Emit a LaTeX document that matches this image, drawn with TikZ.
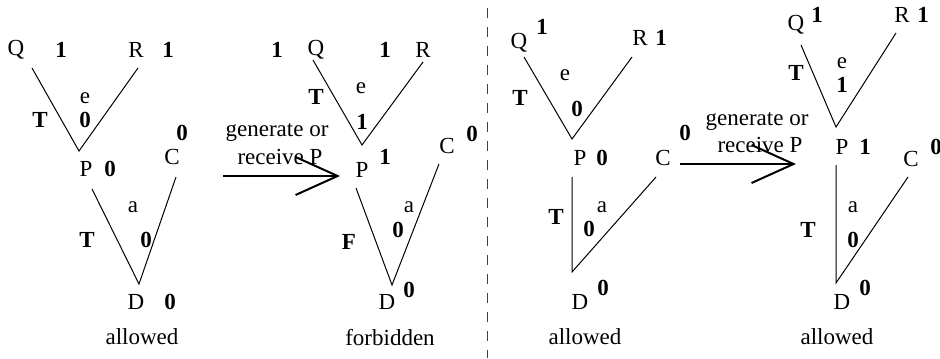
\documentclass[tikz,border=0pt]{standalone}
\usepackage{fontspec}
\setmainfont{Liberation Serif}
\usetikzlibrary{arrows.meta}
\tikzset{
  lbl/.style={inner sep=0pt, font=\fontsize{11.5}{13}\selectfont},
  val/.style={inner sep=0pt, font=\fontsize{11.5}{13}\selectfont\bfseries},
  edge/.style={line width=0.5pt},
  bigarrow/.style={line width=1pt, -{Straight Barb[length=21pt, width=19pt, line width=1pt]}},
  sep/.style={line width=0.5pt, draw=black!75, dash pattern=on 5pt off 4.5pt},
}
\begin{document}
\begin{tikzpicture}[x=0.5pt,y=-0.5pt]
\useasboundingbox (0,0) rectangle (940,358);

% ---------- Panel 1 ----------
\node[lbl] (Qa) at (16,50) {Q};
\node[val] (Qav) at (61,50) {1};
\node[lbl] (Ra) at (136,50) {R};
\node[val] (Rav) at (168,50) {1};
\coordinate (qa) at (32,68);
\coordinate (pa) at (79,151);
\coordinate (ra) at (138,68);
\draw[edge] (qa) -- (pa) -- (ra);
\node[lbl] (ea) at (85,98) {e};
\node[val] (eav) at (85,120) {0};
\node[val] (ta1) at (40,120) {T};
\node[lbl] (Pa) at (86,169) {P};
\node[val] (Pav) at (110,169) {0};
\node[lbl] (Ca) at (172,157) {C};
\node[val] (Cav) at (182,133) {0};
\coordinate (pda) at (92,189);
\coordinate (da) at (139,284);
\coordinate (ca) at (176,177);
\draw[edge] (pda) -- (da) -- (ca);
\node[lbl] (aa) at (133,207) {a};
\node[val] (ta2) at (87,240) {T};
\node[val] (aav) at (146,240) {0};
\node[lbl] (Da) at (136,302) {D};
\node[val] (Dav) at (170,302) {0};
\node[lbl] (capa) at (142,337) {allowed};

% ---------- Arrow 1 ----------
\node[lbl] (g1) at (277,133) {generate or};
\node[lbl] (r1) at (280,157) {receive P};
\coordinate (arr1s) at (223,176);
\coordinate (arr1e) at (340,176);
\draw[bigarrow] (arr1s) -- (arr1e);

% ---------- Panel 2 ----------
\node[val] (Qbv) at (277,50) {1};
\node[lbl] (Qb) at (316,50) {Q};
\node[val] (Rbv) at (385,50) {1};
\node[lbl] (Rb) at (423,50) {R};
\coordinate (qb) at (313,60);
\coordinate (pb) at (362,145);
\coordinate (rb) at (423,62);
\draw[edge] (qb) -- (pb) -- (rb);
\node[lbl] (eb) at (361,88) {e};
\node[val] (tb1) at (316,97) {T};
\node[val] (ebv) at (362,122) {1};
\node[lbl] (Pb) at (362,170) {P};
\node[val] (Pbv) at (385,157) {1};
\node[lbl] (Cb) at (447,146) {C};
\node[val] (Cbv) at (472,134) {0};
\coordinate (pdb) at (356,188);
\coordinate (db) at (392,285);
\coordinate (cb) at (439,164);
\draw[edge] (pdb) -- (db) -- (cb);
\node[lbl] (ab) at (409,207) {a};
\node[val] (abv) at (398,230) {0};
\node[val] (fb) at (349,242) {F};
\node[lbl] (Db) at (387,302) {D};
\node[val] (Dbv) at (409,290) {0};
\node[lbl] (capb) at (390,338) {forbidden};

% ---------- Separator ----------
\coordinate (s1) at (487,8);
\coordinate (s2) at (487,358);
\draw[sep] (s1) -- (s2);

% ---------- Panel 3 ----------
\node[lbl] (Qc) at (519,43) {Q};
\node[val] (Qcv) at (542,27) {1};
\node[lbl] (Rc) at (640,38) {R};
\node[val] (Rcv) at (661,38) {1};
\coordinate (qc) at (524,57);
\coordinate (pc) at (572,139);
\coordinate (rc) at (632,57);
\draw[edge] (qc) -- (pc) -- (rc);
\node[lbl] (ec) at (565,75) {e};
\node[val] (tc1) at (520,98) {T};
\node[val] (ecv) at (577,109) {0};
\node[lbl] (Pc) at (580,158) {P};
\node[val] (Pcv) at (602,158) {0};
\node[lbl] (Cc) at (663,158) {C};
\node[val] (Ccv) at (685,133) {0};
\coordinate (pdc) at (572,177);
\coordinate (dc) at (572,272);
\coordinate (cc) at (656,177);
\draw[edge] (pdc) -- (dc) -- (cc);
\node[lbl] (ac) at (602,207) {a};
\node[val] (acv) at (589,229) {0};
\node[val] (tc2) at (556,217) {T};
\node[lbl] (Dc) at (580,302) {D};
\node[val] (Dcv) at (603,288) {0};
\node[lbl] (capc) at (585,337) {allowed};

% ---------- Arrow 2 ----------
\node[lbl] (g2) at (757,122) {generate or};
\node[lbl] (r2) at (760,145) {receive P};
\coordinate (arr2s) at (680,164);
\coordinate (arr2e) at (796,164);
\draw[bigarrow] (arr2s) -- (arr2e);

% ---------- Panel 4 ----------
\node[lbl] (Qd) at (796,25) {Q};
\node[val] (Qdv) at (817,15) {1};
\node[lbl] (Rd) at (902,15) {R};
\node[val] (Rdv) at (923,15) {1};
\coordinate (qd) at (801,45);
\coordinate (pd) at (836,127);
\coordinate (rd) at (896,33);
\draw[edge] (qd) -- (pd) -- (rd);
\node[lbl] (ed) at (842,63) {e};
\node[val] (edv) at (842,85) {1};
\node[val] (td1) at (796,73) {T};
\node[lbl] (Pd) at (842,147) {P};
\node[val] (Pdv) at (865,147) {1};
\node[lbl] (Cd) at (911,159) {C};
\node[val] (Cdv) at (936,147) {0};
\coordinate (pdd) at (836,165);
\coordinate (dd) at (836,283);
\coordinate (cd) at (908,177);
\draw[edge] (pdd) -- (dd) -- (cd);
\node[lbl] (ad) at (853,207) {a};
\node[val] (td2) at (808,230) {T};
\node[val] (adv) at (853,240) {0};
\node[lbl] (Dd) at (842,302) {D};
\node[val] (Ddv) at (865,288) {0};
\node[lbl] (capd) at (837,337) {allowed};
\end{tikzpicture}
\end{document}
